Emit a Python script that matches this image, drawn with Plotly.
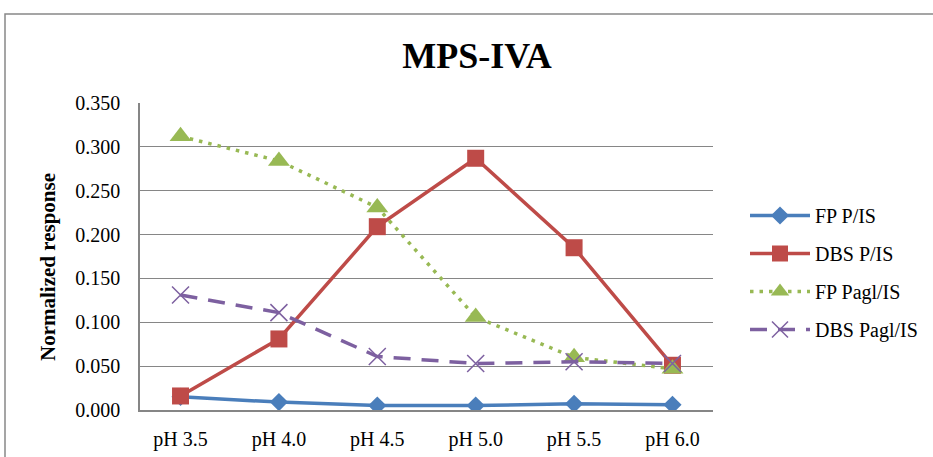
import plotly.graph_objects as go

categories = ["pH 3.5", "pH 4.0", "pH 4.5", "pH 5.0", "pH 5.5", "pH 6.0"]
fp_p_is = [0.015, 0.009, 0.005, 0.005, 0.007, 0.006]
dbs_p_is = [0.016, 0.081, 0.209, 0.287, 0.185, 0.051]
fp_pagl_is = [0.312, 0.284, 0.231, 0.106, 0.060, 0.047]
dbs_pagl_is = [0.131, 0.111, 0.061, 0.053, 0.055, 0.053]
y_ticks = [0.0, 0.05, 0.1, 0.15, 0.2, 0.25, 0.3, 0.35]

FONT = "Liberation Serif"
W, H = 933, 457
L, R, T, B = 140, 220, 103, 47
pw, ph = W - L - R, H - T - B

def px_x(p):
    return (p - L) / pw

def px_y(p):
    return (H - B - p) / ph

fig = go.Figure()
series = [
    ("FP P/IS", fp_p_is, "#4A7EBB", "solid", "diamond", 14, 0),
    ("DBS P/IS", dbs_p_is, "#BE4B48", "solid", "square", 17, 0),
    ("FP Pagl/IS", fp_pagl_is, "#98B954", "3.5px,6px", "triangle-up", 19, 0),
    ("DBS Pagl/IS", dbs_pagl_is, "#7D60A0", "17px,11px", "x-thin", 17, 1.5),
]
for name, vals, col, dash, sym, size, lw in series:
    mk = dict(symbol=sym, size=size, color=col)
    if sym == "x-thin":
        mk["line"] = dict(color=col, width=lw)
    fig.add_trace(go.Scatter(
        x=categories, y=vals, name=name, mode="lines+markers",
        line=dict(color=col, width=3.5, dash=dash),
        marker=mk, legendgroup=name,
    ))

fig.update_layout(
    width=W, height=H,
    margin=dict(l=L, r=R, t=T, b=B, autoexpand=False),
    paper_bgcolor="white", plot_bgcolor="white",
    font=dict(family=FONT, size=20, color="black"),
    title=dict(text="<b>MPS-IVA</b>", x=477 / W, xanchor="center",
               y=1 - 55 / H, yanchor="middle",
               font=dict(family=FONT, size=36, color="black")),
    showlegend=True,
    legend=dict(x=px_x(745), y=px_y(196), xanchor="left", yanchor="top",
                font=dict(family=FONT, size=20), tracegroupgap=9,
                itemwidth=60, bgcolor="rgba(0,0,0,0)"),
    xaxis=dict(type="category", showgrid=False, showline=True,
               linecolor="#868686", linewidth=1.5, ticks="", automargin=False,
               tickfont=dict(family=FONT, size=20), ticklabelstandoff=10),
    yaxis=dict(range=[0, 0.35], tickvals=y_ticks, tickformat=".3f",
               showgrid=True, gridcolor="#868686", gridwidth=1.2,
               showline=True, linecolor="#868686", linewidth=1.5,
               zeroline=False, ticks="", automargin=False,
               tickfont=dict(family=FONT, size=20), ticklabelstandoff=14),
    annotations=[dict(text="<b>Normalized response</b>", textangle=-90,
                      x=px_x(48), y=px_y(267), xref="paper", yref="paper",
                      showarrow=False, xanchor="center", yanchor="middle",
                      font=dict(family=FONT, size=21, color="black"))],
    shapes=[dict(type="rect", xref="paper", yref="paper",
                 x0=px_x(5), x1=px_x(960), y0=px_y(480), y1=px_y(14),
                 line=dict(color="#888888", width=1.5), layer="below")],
)

fig.write_html("out.html")
